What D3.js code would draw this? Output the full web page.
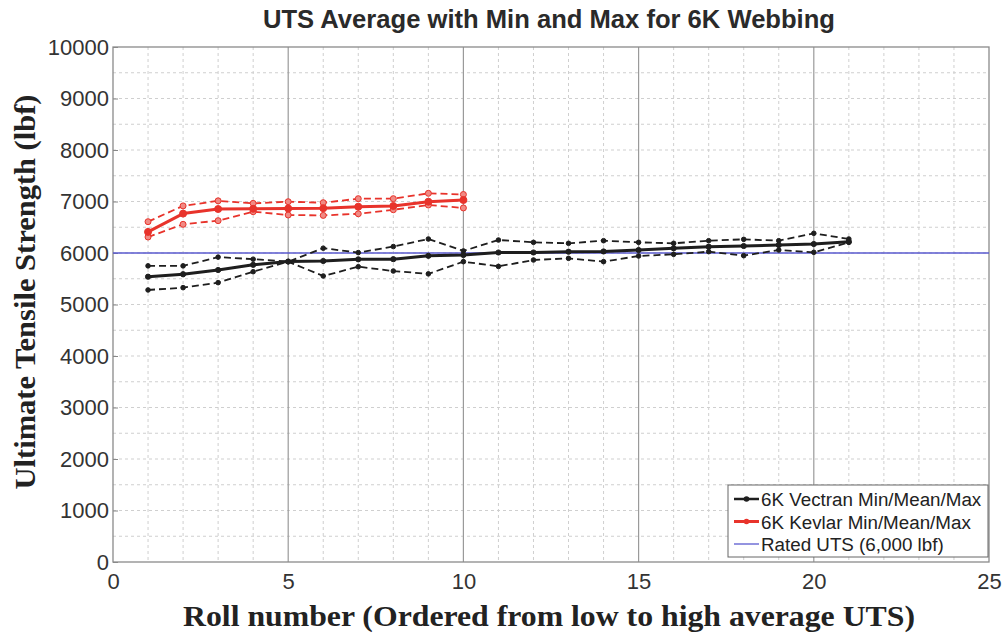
<!DOCTYPE html>
<html>
<head>
<meta charset="utf-8">
<script src="https://cdn.jsdelivr.net/npm/d3@7"></script>
<style>
  html, body { margin: 0; padding: 0; background: #fff; }
  svg { display: block; }
</style>
</head>
<body>
<svg id="chart" width="1003" height="637"></svg>
<script>
// ---------- data ----------
const kevlarRolls = [1, 2, 3, 4, 5, 6, 7, 8, 9, 10];
const kevlarMean = [6410, 6765, 6854, 6858, 6865, 6870, 6900, 6913, 6996, 7029];
const kevlarMax  = [6608, 6915, 7013, 6964, 6996, 6977, 7055, 7055, 7159, 7136];
const kevlarMin  = [6310, 6557, 6628, 6802, 6738, 6730, 6762, 6840, 6932, 6875];

const vectranRolls = [1, 2, 3, 4, 5, 6, 7, 8, 9, 10, 11, 12, 13, 14, 15, 16, 17, 18, 19, 20, 21];
const vectranMean = [5540, 5588, 5670, 5770, 5835, 5845, 5877, 5880, 5945, 5961, 6010, 6010, 6026, 6030, 6058, 6091, 6123, 6136, 6155, 6175, 6220];
const vectranMax  = [5750, 5750, 5920, 5880, 5832, 6093, 6008, 6125, 6272, 6040, 6252, 6207, 6188, 6239, 6207, 6188, 6239, 6265, 6239, 6382, 6272];
const vectranMin  = [5282, 5327, 5424, 5637, 5832, 5553, 5734, 5650, 5595, 5832, 5740, 5864, 5896, 5832, 5942, 5974, 6026, 5948, 6058, 6013, 6207];

const ratedUTS = 6000;

const xTicks = [0, 5, 10, 15, 20, 25];
const yTicks = [0, 1000, 2000, 3000, 4000, 5000, 6000, 7000, 8000, 9000, 10000];

const titleText = "UTS Average with Min and Max for 6K Webbing";
const xLabel = "Roll number (Ordered from low to high average UTS)";
const yLabel = "Ultimate Tensile Strength (lbf)";
const legendLabels = ["6K Vectran Min/Mean/Max", "6K Kevlar Min/Mean/Max", "Rated UTS (6,000 lbf)"];

// ---------- layout ----------
const svg = d3.select("#chart");
svg.append("rect").attr("width", 1003).attr("height", 637).attr("fill", "#fff");

const L = 113, R = 989, T = 47, B = 562;
const x = d3.scaleLinear().domain([0, 25]).range([L, R]);
const y = d3.scaleLinear().domain([0, 10000]).range([B, T]);

const red = "#e8332b", black = "#1e1e1e", blue = "#5a5acf";

// ---------- grid ----------
const grid = svg.append("g");
grid.selectAll("line.h").data(d3.range(500, 10000, 500)).join("line")
  .attr("x1", L).attr("x2", R).attr("y1", d => y(d)).attr("y2", d => y(d))
  .attr("stroke", "#cfcfcf").attr("stroke-width", 1).attr("stroke-dasharray", "3,3");
grid.selectAll("line.v").data(d3.range(1, 25).filter(d => d % 5 !== 0)).join("line")
  .attr("y1", T).attr("y2", B).attr("x1", d => x(d)).attr("x2", d => x(d))
  .attr("stroke", "#cfcfcf").attr("stroke-width", 1).attr("stroke-dasharray", "3,3");
grid.selectAll("line.vm").data([5, 10, 15, 20]).join("line")
  .attr("y1", T).attr("y2", B).attr("x1", d => x(d)).attr("x2", d => x(d))
  .attr("stroke", "#9a9a9a").attr("stroke-width", 1.2);

// ---------- axes ----------
const xAxis = d3.axisBottom(x).tickValues(xTicks).tickSize(0).tickPadding(7).tickFormat(d3.format("d"));
const yAxis = d3.axisLeft(y).tickValues(yTicks).tickSize(5).tickPadding(3).tickFormat(d3.format("d"));

const gx = svg.append("g").attr("transform", `translate(0,${B})`).call(xAxis);
const gy = svg.append("g").attr("transform", `translate(${L},0)`).call(yAxis);
[gx, gy].forEach(g => {
  g.select(".domain").remove();
  g.selectAll("text").attr("font-family", "Liberation Sans, Arial, sans-serif")
    .attr("font-size", 22).attr("fill", "#333");
  g.selectAll("line").attr("stroke", "#888");
});
gy.selectAll(".tick line").attr("x2", 5).attr("x1", 0);
gy.selectAll(".tick text").attr("x", -4);
gx.selectAll(".tick text").attr("dy", "0.9em");

// frame
svg.append("rect").attr("x", L).attr("y", T).attr("width", R - L).attr("height", B - T)
  .attr("fill", "none").attr("stroke", "#8a8a8a").attr("stroke-width", 1.3);

// ---------- rated line ----------
svg.append("line").attr("x1", L).attr("x2", R).attr("y1", y(ratedUTS)).attr("y2", y(ratedUTS))
  .attr("stroke", blue).attr("stroke-width", 1.3);

// ---------- series ----------
const line = d3.line().x(d => x(d[0])).y(d => y(d[1]));
function series(rolls, vals, color, width, dash, r, fill) {
  const pts = rolls.map((d, i) => [d, vals[i]]);
  const g = svg.append("g");
  g.append("path").datum(pts).attr("d", line).attr("fill", "none")
    .attr("stroke", color).attr("stroke-width", width)
    .attr("stroke-dasharray", dash || null).attr("stroke-linejoin", "round");
  g.selectAll("circle").data(pts).join("circle")
    .attr("cx", d => x(d[0])).attr("cy", d => y(d[1])).attr("r", r)
    .attr("fill", fill).attr("stroke", color).attr("stroke-width", 1);
}
series(vectranRolls, vectranMax, black, 1.8, "7,4", 2.3, black);
series(vectranRolls, vectranMin, black, 1.8, "7,4", 2.3, black);
series(vectranRolls, vectranMean, black, 3, null, 2.6, black);
series(kevlarRolls, kevlarMax, red, 1.8, "7,4", 3, "#f08a84");
series(kevlarRolls, kevlarMin, red, 1.8, "7,4", 3, "#f08a84");
series(kevlarRolls, kevlarMean, red, 3, null, 3.5, red);

// ---------- labels ----------
svg.append("text").attr("x", 549).attr("y", 28).attr("text-anchor", "middle")
  .attr("font-family", "Liberation Sans, Arial, sans-serif").attr("font-weight", "bold")
  .attr("font-size", 25).attr("fill", "#2a2a2a")
  .attr("textLength", 572).attr("lengthAdjust", "spacingAndGlyphs")
  .text(titleText);

svg.append("text").attr("x", 549).attr("y", 626).attr("text-anchor", "middle")
  .attr("font-family", "Liberation Serif, Times New Roman, serif").attr("font-weight", "bold")
  .attr("font-size", 30).attr("fill", "#222")
  .attr("textLength", 732).attr("lengthAdjust", "spacingAndGlyphs")
  .text(xLabel);

svg.append("text").attr("transform", "translate(35,292) rotate(-90)").attr("text-anchor", "middle")
  .attr("font-family", "Liberation Serif, Times New Roman, serif").attr("font-weight", "bold")
  .attr("font-size", 30).attr("fill", "#222")
  .attr("textLength", 395).attr("lengthAdjust", "spacingAndGlyphs")
  .text(yLabel);

// ---------- legend ----------
const lg = svg.append("g");
lg.append("rect").attr("x", 728).attr("y", 485).attr("width", 260).attr("height", 72)
  .attr("fill", "#fff").attr("stroke", "#666").attr("stroke-width", 1);
const legendStyles = [
  { color: black, width: 2.5, marker: true },
  { color: red, width: 3, marker: true },
  { color: blue, width: 1.3, marker: false }
];
legendLabels.forEach((lab, i) => {
  const yy = 499 + i * 22.5;
  const st = legendStyles[i];
  lg.append("line").attr("x1", 734).attr("x2", 759).attr("y1", yy).attr("y2", yy)
    .attr("stroke", st.color).attr("stroke-width", st.width);
  if (st.marker) lg.append("circle").attr("cx", 746.5).attr("cy", yy).attr("r", 2.8).attr("fill", st.color);
  lg.append("text").attr("x", 761).attr("y", yy + 7)
    .attr("font-family", "Liberation Sans, Arial, sans-serif").attr("font-size", 18.8)
    .attr("fill", "#222").text(lab);
});
</script>
</body>
</html>
